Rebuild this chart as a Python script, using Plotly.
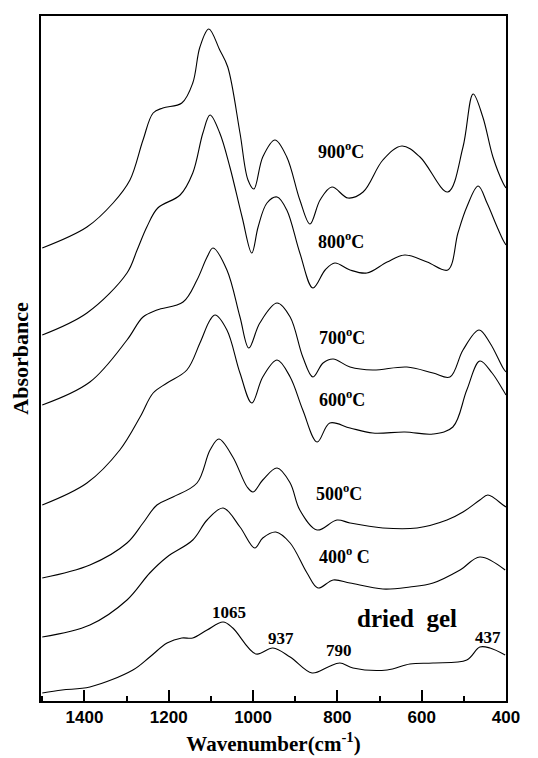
import plotly.graph_objects as go

# ---- data (wavenumber cm-1, offset absorbance a.u.) ----
wn_900 = [1500, 1394, 1332, 1292, 1261, 1237, 1214, 1169, 1143, 1126, 1105, 1079, 1060, 1031, 1012, 998, 977, 948, 920, 889, 865, 841, 813, 775, 739, 692, 647, 604, 538, 502, 478, 455, 431, 407, 400]
abs_900 = [4.53, 4.74, 4.98, 5.21, 5.61, 5.88, 5.93, 5.98, 6.18, 6.54, 6.72, 6.51, 6.34, 5.68, 5.21, 5.12, 5.44, 5.61, 5.44, 5.01, 4.77, 5.01, 5.14, 5.03, 5.09, 5.41, 5.55, 5.44, 5.09, 5.54, 6.07, 5.84, 5.44, 5.18, 5.13]

wn_800 = [1500, 1394, 1299, 1275, 1252, 1226, 1173, 1143, 1119, 1102, 1079, 1055, 1026, 1003, 988, 967, 943, 920, 889, 858, 829, 806, 770, 730, 682, 640, 587, 538, 514, 493, 466, 445, 421, 407, 400]
abs_800 = [3.66, 3.88, 4.28, 4.51, 4.74, 4.93, 5.06, 5.28, 5.68, 5.86, 5.68, 5.34, 4.84, 4.48, 4.74, 4.98, 5.04, 4.91, 4.48, 4.13, 4.31, 4.38, 4.31, 4.28, 4.39, 4.46, 4.39, 4.31, 4.68, 4.94, 5.15, 4.98, 4.74, 4.61, 4.56]

wn_700 = [1500, 1387, 1299, 1261, 1228, 1166, 1133, 1109, 1095, 1062, 1031, 1010, 984, 943, 912, 882, 858, 834, 810, 770, 716, 635, 573, 533, 502, 464, 438, 407, 400]
abs_700 = [2.96, 3.19, 3.61, 3.84, 3.91, 3.99, 4.21, 4.44, 4.53, 4.31, 3.84, 3.53, 3.78, 3.98, 3.84, 3.44, 3.24, 3.38, 3.42, 3.34, 3.31, 3.34, 3.28, 3.24, 3.51, 3.71, 3.58, 3.33, 3.29]

wn_600 = [1500, 1394, 1316, 1268, 1237, 1204, 1157, 1126, 1102, 1090, 1062, 1031, 1003, 977, 943, 912, 882, 848, 818, 770, 716, 640, 573, 526, 493, 462, 433, 407, 400]
abs_600 = [1.96, 2.18, 2.51, 2.84, 3.08, 3.18, 3.31, 3.58, 3.81, 3.86, 3.71, 3.28, 2.98, 3.24, 3.41, 3.24, 2.91, 2.59, 2.78, 2.73, 2.68, 2.69, 2.67, 2.74, 3.11, 3.40, 3.28, 3.11, 3.06]

wn_500 = [1500, 1387, 1299, 1261, 1228, 1190, 1133, 1102, 1081, 1048, 1014, 1000, 977, 943, 912, 889, 848, 801, 770, 692, 611, 540, 502, 462, 443, 407, 400]
abs_500 = [1.23, 1.36, 1.58, 1.78, 1.96, 2.04, 2.18, 2.51, 2.62, 2.44, 2.14, 2.09, 2.21, 2.33, 2.18, 1.91, 1.71, 1.81, 1.78, 1.73, 1.73, 1.81, 1.89, 2.01, 2.06, 1.96, 1.94]

wn_400 = [1500, 1387, 1299, 1245, 1204, 1143, 1109, 1071, 1031, 996, 977, 946, 912, 872, 846, 810, 770, 692, 628, 573, 509, 462, 402]
abs_400 = [0.64, 0.76, 1.01, 1.28, 1.44, 1.61, 1.81, 1.93, 1.74, 1.53, 1.63, 1.69, 1.58, 1.28, 1.13, 1.21, 1.18, 1.12, 1.14, 1.18, 1.31, 1.44, 1.31]

wn_gel = [1500, 1453, 1387, 1285, 1245, 1204, 1169, 1143, 1109, 1071, 1048, 993, 953, 912, 860, 822, 794, 763, 682, 628, 573, 493, 462, 438, 402]
abs_gel = [0.08, 0.11, 0.14, 0.31, 0.44, 0.58, 0.63, 0.63, 0.71, 0.79, 0.73, 0.47, 0.53, 0.44, 0.28, 0.34, 0.38, 0.33, 0.31, 0.37, 0.38, 0.41, 0.54, 0.53, 0.46]

curve_labels = ["900<sup>o</sup>C", "800<sup>o</sup>C", "700<sup>o</sup>C", "600<sup>o</sup>C",
                "500<sup>o</sup>C", "400<sup>o</sup> C", "dried  gel"]
peak_labels = ["1065", "937", "790", "437"]
tick_values = [1400, 1200, 1000, 800, 600, 400]

series = [(wn_900, abs_900), (wn_800, abs_800), (wn_700, abs_700), (wn_600, abs_600),
          (wn_500, abs_500), (wn_400, abs_400), (wn_gel, abs_gel)]

fig = go.Figure()
for x, y in series:
    fig.add_trace(go.Scatter(x=x, y=y, mode="lines", showlegend=False, hoverinfo="skip",
                             line=dict(color="black", width=1.1, shape="spline", smoothing=1.0)))

serif = "Liberation Serif"
label_pos = [(791, 5.51), (791, 4.61), (789, 3.65), (789, 3.03), (796, 2.09), (782, 1.46), (635, 0.83)]
for i, (txt, (px, py)) in enumerate(zip(curve_labels, label_pos)):
    fig.add_annotation(x=px, y=py, text=txt, showarrow=False,
                       font=dict(family=serif, size=25 if i == 6 else 18, color="black", weight="bold"),
                       xanchor="center", yanchor="middle")

peak_pos = [(1057, 0.89), (934, 0.63), (796, 0.51), (443, 0.64)]
for txt, (px, py) in zip(peak_labels, peak_pos):
    fig.add_annotation(x=px, y=py, text=txt, showarrow=False,
                       font=dict(family=serif, size=17, color="black", weight="bold"),
                       xanchor="center", yanchor="middle")

fig.update_layout(
    width=530, height=750,
    margin=dict(l=33, r=32, t=8, b=57, autoexpand=False),
    paper_bgcolor="white", plot_bgcolor="white",
    xaxis=dict(range=[1503, 400], tickvals=tick_values, ticktext=[str(v) for v in tick_values],
               ticks="inside", ticklen=11, tickwidth=1.5, tickcolor="black",
               minor=dict(ticks="inside", ticklen=5, tickwidth=1.5, tickcolor="black", dtick=100, tick0=400),
               showline=True, linecolor="black", linewidth=1.8, mirror=True,
               showgrid=False, zeroline=False,
               tickfont=dict(family="Liberation Sans", size=17, color="black", weight="bold"),
               title=dict(text="Wavenumber(cm<sup>-1</sup>)", standoff=10,
                          font=dict(family=serif, size=21, color="black", weight="bold"))),
    yaxis=dict(range=[0, 6.85], showticklabels=False, ticks="",
               showline=True, linecolor="black", linewidth=1.8, mirror=True,
               showgrid=False, zeroline=False,
               title=dict(text="Absorbance", standoff=8,
                          font=dict(family=serif, size=22, color="black", weight="bold"))),
)

fig.write_html("out.html")
